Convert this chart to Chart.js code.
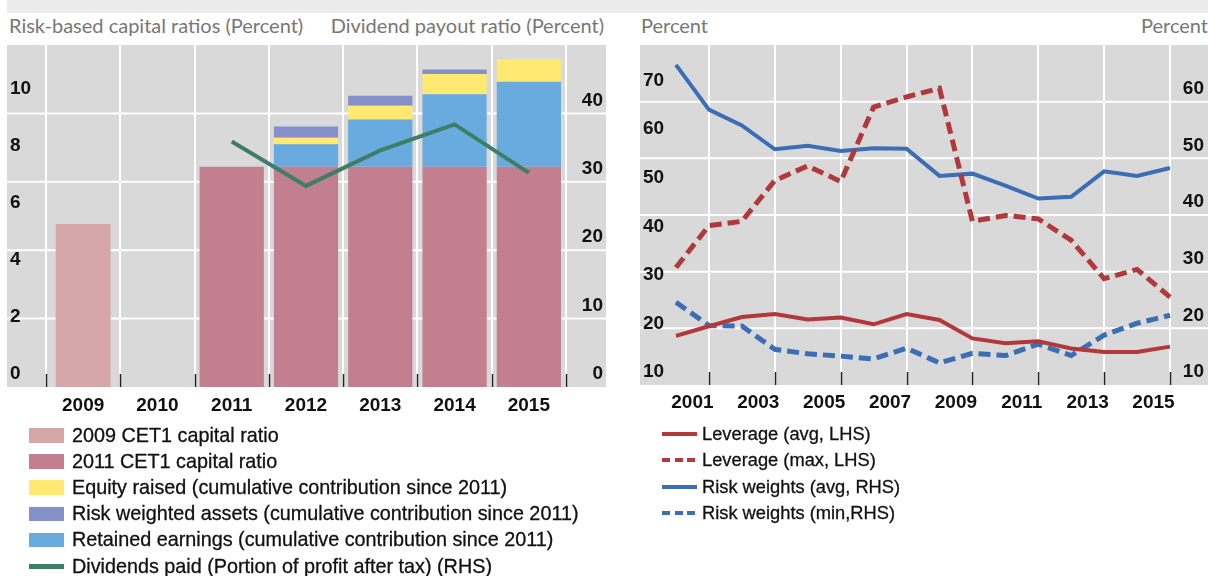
<!DOCTYPE html>
<html>
<head>
<meta charset="utf-8">
<title>Bank capital, payouts, leverage and risk weights</title>
<script src="https://cdn.jsdelivr.net/npm/chart.js@4.4.1/dist/chart.umd.min.js"></script>
<style>
  html, body { margin: 0; padding: 0; background: #fff; }
  body { position: relative; width: 1208px; height: 576px; overflow: hidden; font-family: "Liberation Sans", Arial, sans-serif; }
  .band { position: absolute; left: 7px; top: 0; width: 1201px; height: 13px; background: #ebebeb; }
  .title { position: absolute; top: 16px; font-family: Lato, "Open Sans", sans-serif; font-size: 20px; line-height: 19px; color: #777; white-space: nowrap; }
  canvas { position: absolute; }
  .legend { position: absolute; }
  .legend .row { display: flex; align-items: center; height: 26.1px; color: #111; white-space: nowrap; -webkit-text-stroke: 0.3px #111; }
  #capitalLegend .row { font-size: 19.8px; }
  #riskLegend .row { font-size: 18.3px; }
  .legend .sw { flex: none; width: 35px; }
</style>
</head>
<body>
<div class="band"></div>
<div class="title" style="left:9px">Risk-based capital ratios (Percent)</div>
<div class="title" style="right:604px">Dividend payout ratio (Percent)</div>
<div class="title" style="left:641px">Percent</div>
<div class="title" style="right:0">Percent</div>

<canvas id="capitalChart" width="612" height="385" style="left:0;top:40px"></canvas>
<canvas id="riskChart" width="588" height="385" style="left:620px;top:40px"></canvas>

<div id="capitalLegend" class="legend" style="left:29px;top:422.5px"></div>
<div id="riskLegend" class="legend" style="left:662px;top:421.3px"></div>

<script>
// left panel: capital ratios build-up and dividend payout
const capitalYears = ["2009", "2010", "2011", "2012", "2013", "2014", "2015"]
const cet1Ratio2009 = [5.72, null, null, null, null, null, null]
const cet1Ratio2011 = [null, null, 7.73, 7.73, 7.73, 7.73, 7.73]
const retainedEarnings = [null, null, null, 0.79, 1.66, 2.54, 2.98]
const equityRaised = [null, null, null, 0.23, 0.48, 0.71, 0.79]
const riskWeightedAssets = [null, null, null, 0.39, 0.35, 0.16, null]
const dividendsPaid = [null, null, 35.9, 29.4, 34.6, 38.4, 31.3]
const capitalTicks = [0, 2, 4, 6, 8, 10]
const payoutTicks = [0, 10, 20, 30, 40]

// right panel: leverage and risk weights
const riskYears = ["2000", "2001", "2002", "2003", "2004", "2005", "2006", "2007",
  "2008", "2009", "2010", "2011", "2012", "2013", "2014", "2015"]
const leverageAvg = [20.1, 22.1, 24.0, 24.6, 23.5, 23.9, 22.5, 24.6, 23.4, 19.6, 18.6, 19.0, 17.5, 16.8, 16.8, 17.9]
const leverageMax = [34.2, 42.8, 43.7, 52.1, 55.1, 51.9, 67.2, 69.3, 71.1, 43.7, 44.9, 44.2, 39.8, 31.9, 33.8, 28.1]
const riskWeightAvg = [66.5, 58.6, 55.8, 51.6, 52.2, 51.3, 51.8, 51.7, 46.9, 47.3, 45.2, 42.9, 43.2, 47.7, 46.9, 48.3]
const riskWeightMin = [24.6, 20.5, 20.4, 16.3, 15.5, 15.1, 14.6, 16.5, 13.9, 15.6, 15.2, 17.2, 15.2, 18.8, 20.9, 22.3]
const yearTickLabels = ["2001", "2003", "2005", "2007", "2009", "2011", "2013", "2015"]
const leverageTicks = [10, 20, 30, 40, 50, 60, 70]
const riskWeightTicks = [10, 20, 30, 40, 50, 60]

const RED = "#b1383b"
const BLUE = "#3b6eb5"

Chart.defaults.font.family = "'Liberation Sans', Arial, sans-serif"
Chart.defaults.font.size = 19
Chart.defaults.font.weight = "bold"
Chart.defaults.color = "#111"

// grey plot panel that also runs under the axis labels, with white lines at the RHS ticks
const plotBackdrop = {
  id: "plotBackdrop",
  beforeDraw(chart, args, opts) {
    const { ctx, chartArea: { top, bottom } } = chart
    const left = chart.scales.y.left - 3
    const right = opts.toEdge ? chart.width : chart.scales.y1.right + 3
    const grid = chart.scales.y1
    ctx.save()
    ctx.fillStyle = "#d9d9d9"
    ctx.fillRect(left, top, right - left, bottom - top)
    ctx.strokeStyle = "#ffffff"
    ctx.lineWidth = 2
    grid.ticks.forEach((t) => {
      const y = grid.getPixelForValue(t.value)
      if (y < top + 2 || y > bottom - 2) return
      ctx.beginPath()
      ctx.moveTo(left, y)
      ctx.lineTo(right, y)
      ctx.stroke()
    })
    ctx.restore()
  }
}

// short black marks standing up from the category axis
const tickMarks = {
  id: "tickMarks",
  beforeDatasetsDraw(chart, args, opts) {
    const { ctx, chartArea: { bottom } } = chart
    const x = chart.scales.x
    const xs = []
    if (opts.between) {
      const half = (x.getPixelForValue(1) - x.getPixelForValue(0)) / 2
      for (let i = 0; i <= x.ticks.length; i++) xs.push(x.getPixelForValue(i) - half)
    } else {
      x.ticks.forEach((t) => { if (t.label) xs.push(x.getPixelForValue(t.value)) })
    }
    ctx.save()
    ctx.strokeStyle = "#222"
    ctx.lineWidth = 1.5
    xs.forEach((px) => {
      ctx.beginPath()
      ctx.moveTo(Math.round(px) + 0.5, bottom)
      ctx.lineTo(Math.round(px) + 0.5, bottom - 13)
      ctx.stroke()
    })
    ctx.restore()
  }
}

const hiddenGrid = { display: false }
const noBorder = { display: false }

// fixed axis sizes, no extra room for half labels
const fixWidth = (w) => (s) => { s.width = w; s.paddingTop = 0; s.paddingBottom = 0 }
const fixHeight = (h) => (s) => { s.height = h; s.paddingLeft = 0; s.paddingRight = 0 }

const capitalChart = new Chart(document.getElementById("capitalChart"), {
  type: "bar",
  data: {
    labels: capitalYears,
    datasets: [
      { label: "2009 CET1 capital ratio", data: cet1Ratio2009, backgroundColor: "#d5a7a8", barPercentage: 0.74, order: 1 },
      { label: "2011 CET1 capital ratio", data: cet1Ratio2011, backgroundColor: "#c27f8f", order: 1 },
      { label: "Retained earnings (cumulative contribution since 2011)", data: retainedEarnings, backgroundColor: "#69abdf", order: 1 },
      { label: "Equity raised (cumulative contribution since 2011)", data: equityRaised, backgroundColor: "#ffe970", order: 1 },
      { label: "Risk weighted assets (cumulative contribution since 2011)", data: riskWeightedAssets, backgroundColor: "#8490c7", order: 1 },
      {
        type: "line",
        label: "Dividends paid (Portion of profit after tax) (RHS)",
        data: dividendsPaid,
        yAxisID: "y1",
        borderColor: "#3e7d68",
        backgroundColor: "#3e7d68",
        borderWidth: 4,
        pointRadius: 0,
        tension: 0,
        order: 0
      }
    ]
  },
  options: {
    responsive: false,
    animation: false,
    layout: { padding: { left: 10, right: 9, top: 5, bottom: 0 } },
    datasets: { bar: { categoryPercentage: 1, barPercentage: 0.865 } },
    plugins: {
      legend: { display: false },
      tooltip: { enabled: false },
      plotBackdrop: { toEdge: false },
      tickMarks: { between: true }
    },
    scales: {
      x: {
        stacked: true,
        grid: { color: "#ffffff", lineWidth: 2, drawTicks: false },
        border: noBorder,
        ticks: { padding: 7, maxRotation: 0 },
        afterFit: fixHeight(38)
      },
      y: {
        stacked: true,
        min: 0,
        max: 12,
        grid: hiddenGrid,
        border: noBorder,
        ticks: { crossAlign: "far", labelOffset: -13, padding: 0 },
        afterBuildTicks: (s) => { s.ticks = capitalTicks.map((v) => ({ value: v })) },
        afterFit: fixWidth(36)
      },
      y1: {
        position: "right",
        min: 0,
        max: 50,
        grid: hiddenGrid,
        border: noBorder,
        ticks: { crossAlign: "far", labelOffset: -13, padding: 0 },
        afterBuildTicks: (s) => { s.ticks = payoutTicks.map((v) => ({ value: v })) },
        afterFit: fixWidth(37)
      }
    }
  },
  plugins: [plotBackdrop, tickMarks]
})

const riskChart = new Chart(document.getElementById("riskChart"), {
  type: "line",
  data: {
    labels: riskYears,
    datasets: [
      { label: "Leverage (avg, LHS)", data: leverageAvg, yAxisID: "y", borderColor: RED, backgroundColor: RED, borderWidth: 4 },
      { label: "Leverage (max, LHS)", data: leverageMax, yAxisID: "y", borderColor: RED, backgroundColor: RED, borderWidth: 5, borderDash: [12, 6] },
      { label: "Risk weights (avg, RHS)", data: riskWeightAvg, yAxisID: "y1", borderColor: BLUE, backgroundColor: BLUE, borderWidth: 4 },
      { label: "Risk weights (min,RHS)", data: riskWeightMin, yAxisID: "y1", borderColor: BLUE, backgroundColor: BLUE, borderWidth: 5, borderDash: [12, 6] }
    ]
  },
  options: {
    responsive: false,
    animation: false,
    elements: { point: { radius: 0 }, line: { tension: 0, borderCapStyle: "butt" } },
    layout: { padding: { left: 23, right: 4, top: 5, bottom: 0 } },
    plugins: {
      legend: { display: false },
      tooltip: { enabled: false },
      plotBackdrop: { toEdge: true },
      tickMarks: { between: false }
    },
    scales: {
      x: {
        offset: false,
        grid: {
          color: (ctx) => (yearTickLabels.includes(riskYears[ctx.index]) ? "#ffffff" : "rgba(0,0,0,0)"),
          lineWidth: 2,
          drawTicks: false
        },
        border: noBorder,
        ticks: {
          autoSkip: false,
          maxRotation: 0,
          minRotation: 0,
          padding: 6,
          labelOffset: -16.5,
          callback(value) {
            const label = this.getLabelForValue(value)
            return yearTickLabels.includes(label) ? label : ""
          }
        },
        afterFit: fixHeight(40)
      },
      y: {
        min: 10,
        max: 80,
        grid: hiddenGrid,
        border: noBorder,
        ticks: { crossAlign: "far", labelOffset: -13, padding: 0 },
        afterBuildTicks: (s) => { s.ticks = leverageTicks.map((v) => ({ value: v })) },
        afterFit: fixWidth(33)
      },
      y1: {
        position: "right",
        min: 10,
        max: 70,
        grid: hiddenGrid,
        border: noBorder,
        ticks: { crossAlign: "far", labelOffset: -13, padding: 0 },
        afterBuildTicks: (s) => { s.ticks = riskWeightTicks.map((v) => ({ value: v })) },
        afterFit: fixWidth(34)
      }
    }
  },
  plugins: [plotBackdrop, tickMarks]
})

// html legends built from the chart datasets
function buildLegend(el, chart, order, gap, lineHeight) {
  order.forEach((i) => {
    const ds = chart.data.datasets[i]
    const row = document.createElement("div")
    row.className = "row"
    const sw = document.createElement("span")
    sw.className = "sw"
    const isLine = (ds.type || chart.config.type) === "line"
    if (!isLine) {
      sw.style.height = "14.5px"
      sw.style.background = ds.backgroundColor
    } else if (ds.borderDash) {
      sw.style.height = lineHeight + "px"
      sw.style.background = `repeating-linear-gradient(to right, ${ds.borderColor} 0 8px, transparent 8px 12.7px)`
    } else {
      sw.style.height = lineHeight + "px"
      sw.style.background = ds.borderColor
    }
    sw.style.marginRight = gap + "px"
    const txt = document.createElement("span")
    txt.textContent = ds.label
    row.append(sw, txt)
    el.appendChild(row)
  })
}

buildLegend(document.getElementById("capitalLegend"), capitalChart, [0, 1, 3, 4, 2, 5], 8, 5)
buildLegend(document.getElementById("riskLegend"), riskChart, [0, 1, 2, 3], 5, 4)
</script>
</body>
</html>
